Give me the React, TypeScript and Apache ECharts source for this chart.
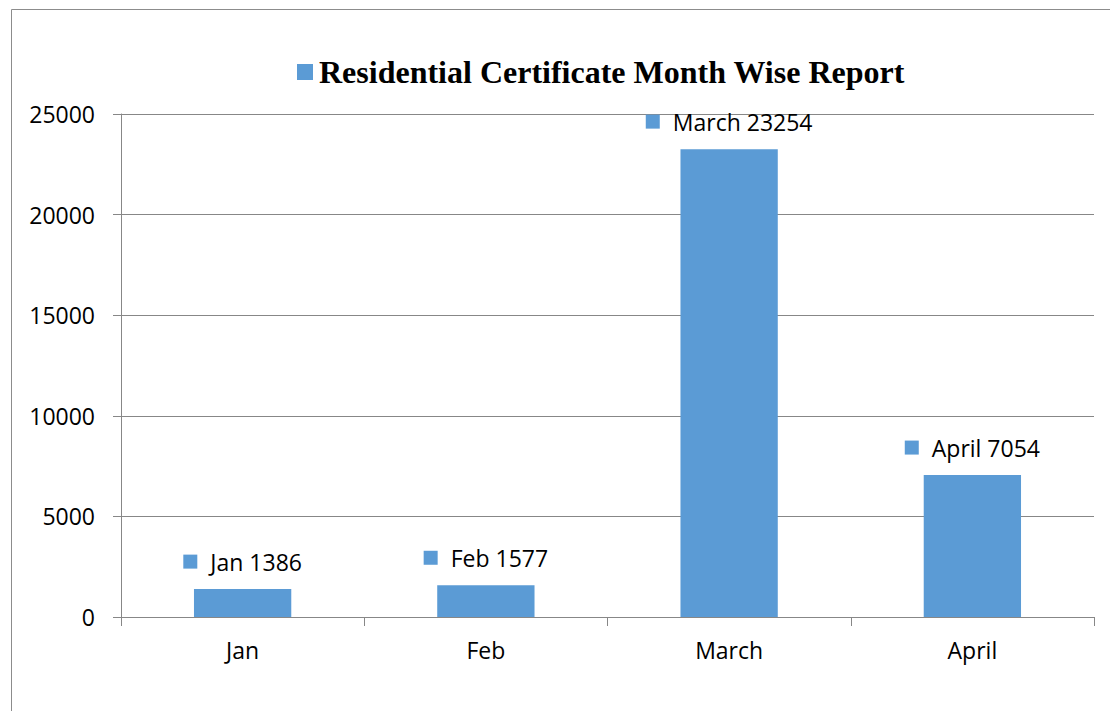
import React, { useEffect, useRef } from "react";
import * as echarts from "echarts";

const categories = ["Jan", "Feb", "March", "April"];
const values = [1386, 1577, 23254, 7054];
const yTicks = [0, 5000, 10000, 15000, 20000, 25000];
const titleText = "Residential Certificate Month Wise Report";

const BLUE = "#5B9BD5";
const GRAY = "#878787";

export default function App() {
  const ref = useRef<HTMLDivElement>(null);
  useEffect(() => {
    document.body.style.margin = "0";
    const chart = echarts.init(ref.current!, null, { renderer: "svg" });
    chart.setOption({
      animation: false,
      backgroundColor: "#ffffff",
      title: {
        text: "{sq|}{t|" + titleText + "}",
        left: 292,
        top: 51,
        textStyle: {
          rich: {
            sq: { width: 16, height: 16, backgroundColor: BLUE },
            t: {
              fontFamily: "Liberation Serif",
              fontWeight: "bold",
              fontSize: 32,
              color: "#000",
              padding: [0, 0, 0, 6],
            },
          },
        },
      },
      graphic: [
        {
          type: "rect",
          shape: { x: 11.5, y: 9.5, width: 1120, height: 720 },
          style: { fill: "none", stroke: "#8c8c8c", lineWidth: 1 },
          silent: true,
        },
      ],
      grid: { left: 121, right: 16, top: 114, bottom: 94, containLabel: false },
      xAxis: {
        type: "category",
        data: categories,
        axisLine: { show: true, lineStyle: { color: GRAY, width: 1 } },
        axisTick: { show: true, length: 9, lineStyle: { color: GRAY } },
        axisLabel: {
          margin: 21,
          fontFamily: "Open Sans",
          fontSize: 23,
          color: "#000",
        },
      },
      yAxis: {
        type: "value",
        min: yTicks[0],
        max: yTicks[yTicks.length - 1],
        interval: 5000,
        axisLine: { show: true, lineStyle: { color: GRAY, width: 1 } },
        axisTick: { show: true, length: 8, lineStyle: { color: GRAY } },
        splitLine: { show: true, lineStyle: { color: GRAY, width: 1 } },
        axisLabel: {
          margin: 26,
          fontFamily: "Open Sans",
          fontSize: 23,
          color: "#000",
          formatter: (v: number) => String(v),
        },
      },
      series: [
        {
          type: "bar",
          data: values,
          barWidth: "40%",
          itemStyle: { color: BLUE },
          label: {
            show: true,
            position: "top",
            distance: 16,
            formatter: (p: any) => "{sq|}{t|" + p.name + " " + p.value + "}",
            rich: {
              sq: { width: 14, height: 14, backgroundColor: BLUE },
              t: {
                fontFamily: "Open Sans",
                fontSize: 23,
                color: "#000",
                padding: [0, 0, 0, 13],
              },
            },
          },
        },
      ],
    });
    return () => chart.dispose();
  }, []);
  return <div ref={ref} style={{ width: 1110, height: 711 }} />;
}
